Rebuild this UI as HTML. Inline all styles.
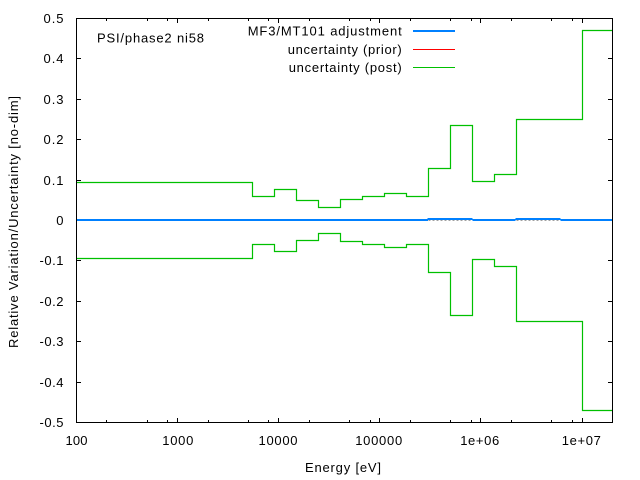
<!DOCTYPE html>
<html><head><meta charset="utf-8"><style>
html,body{margin:0;padding:0;background:#fff;}
svg{display:block;}
text{font-family:"Liberation Sans",Arial,sans-serif;font-size:13px;fill:#000;}
</style></head><body>
<svg width="640" height="480" viewBox="0 0 640 480" xmlns="http://www.w3.org/2000/svg">
<rect width="640" height="480" fill="#fff"/>

<!-- zero axis dotted -->
<line x1="76.5" y1="220.5" x2="612" y2="220.5" stroke="#a0a0a0" stroke-width="1" stroke-dasharray="2,2"/>

<!-- green upper -->
<polyline fill="none" stroke="#00c000" stroke-width="1.2" points="76.5,182.5 252.5,182.5 252.5,196.5 274.5,196.5 274.5,189.5 296.5,189.5 296.5,200.5 318.5,200.5 318.5,207.5 340.5,207.5 340.5,199.5 362.5,199.5 362.5,196.5 384.5,196.5 384.5,193.5 406.5,193.5 406.5,196.5 428.5,196.5 428.5,168.5 450.5,168.5 450.5,125.5 472.5,125.5 472.5,181.5 494.5,181.5 494.5,174.5 516.5,174.5 516.5,119.5 582.5,119.5 582.5,30.5 612,30.5"/>
<!-- green lower -->
<polyline fill="none" stroke="#00c000" stroke-width="1.2" points="76.5,258.5 252.5,258.5 252.5,244.5 274.5,244.5 274.5,251.5 296.5,251.5 296.5,240.5 318.5,240.5 318.5,233.5 340.5,233.5 340.5,241.5 362.5,241.5 362.5,244.5 384.5,244.5 384.5,247.5 406.5,247.5 406.5,244.5 428.5,244.5 428.5,272.5 450.5,272.5 450.5,315.5 472.5,315.5 472.5,259.5 494.5,259.5 494.5,266.5 516.5,266.5 516.5,321.5 582.5,321.5 582.5,410.5 612,410.5"/>

<!-- blue adjustment -->
<rect x="76.5" y="219" width="351.5" height="2" fill="#0080ff"/>
<rect x="427.5" y="218" width="45" height="2" fill="#0080ff"/>
<rect x="472.5" y="219" width="43" height="2" fill="#0080ff"/>
<rect x="515.5" y="218" width="45" height="2" fill="#0080ff"/>
<rect x="560.5" y="219" width="51.5" height="2" fill="#0080ff"/>

<!-- axes box -->
<rect x="76.5" y="18.5" width="536" height="404" fill="none" stroke="#000" stroke-width="1"/>

<!-- y ticks -->
<g stroke="#000" stroke-width="1">
<line x1="76.5" y1="58.5" x2="81" y2="58.5"/><line x1="612.5" y1="58.5" x2="608" y2="58.5"/>
<line x1="76.5" y1="99.5" x2="81" y2="99.5"/><line x1="612.5" y1="99.5" x2="608" y2="99.5"/>
<line x1="76.5" y1="139.5" x2="81" y2="139.5"/><line x1="612.5" y1="139.5" x2="608" y2="139.5"/>
<line x1="76.5" y1="180.5" x2="81" y2="180.5"/><line x1="612.5" y1="180.5" x2="608" y2="180.5"/>
<line x1="76.5" y1="260.5" x2="81" y2="260.5"/><line x1="612.5" y1="260.5" x2="608" y2="260.5"/>
<line x1="76.5" y1="301.5" x2="81" y2="301.5"/><line x1="612.5" y1="301.5" x2="608" y2="301.5"/>
<line x1="76.5" y1="341.5" x2="81" y2="341.5"/><line x1="612.5" y1="341.5" x2="608" y2="341.5"/>
<line x1="76.5" y1="382.5" x2="81" y2="382.5"/><line x1="612.5" y1="382.5" x2="608" y2="382.5"/>
</g>

<!-- x ticks major -->
<g stroke="#000" stroke-width="1">
<line x1="177.5" y1="422.5" x2="177.5" y2="418"/><line x1="177.5" y1="18.5" x2="177.5" y2="23"/>
<line x1="278.5" y1="422.5" x2="278.5" y2="418"/><line x1="278.5" y1="18.5" x2="278.5" y2="23"/>
<line x1="379.5" y1="422.5" x2="379.5" y2="418"/><line x1="379.5" y1="18.5" x2="379.5" y2="23"/>
<line x1="480.5" y1="422.5" x2="480.5" y2="418"/><line x1="480.5" y1="18.5" x2="480.5" y2="23"/>
<line x1="582.5" y1="422.5" x2="582.5" y2="418"/><line x1="582.5" y1="18.5" x2="582.5" y2="23"/>
</g>
<!-- x ticks minor (2,5,8) -->
<g stroke="#000" stroke-width="1">
<line x1="106.5" y1="422.5" x2="106.5" y2="420"/><line x1="106.5" y1="18.5" x2="106.5" y2="21"/>
<line x1="147.5" y1="422.5" x2="147.5" y2="420"/><line x1="147.5" y1="18.5" x2="147.5" y2="21"/>
<line x1="167.5" y1="422.5" x2="167.5" y2="420"/><line x1="167.5" y1="18.5" x2="167.5" y2="21"/>
<line x1="208.5" y1="422.5" x2="208.5" y2="420"/><line x1="208.5" y1="18.5" x2="208.5" y2="21"/>
<line x1="248.5" y1="422.5" x2="248.5" y2="420"/><line x1="248.5" y1="18.5" x2="248.5" y2="21"/>
<line x1="268.5" y1="422.5" x2="268.5" y2="420"/><line x1="268.5" y1="18.5" x2="268.5" y2="21"/>
<line x1="309.5" y1="422.5" x2="309.5" y2="420"/><line x1="309.5" y1="18.5" x2="309.5" y2="21"/>
<line x1="349.5" y1="422.5" x2="349.5" y2="420"/><line x1="349.5" y1="18.5" x2="349.5" y2="21"/>
<line x1="370.5" y1="422.5" x2="370.5" y2="420"/><line x1="370.5" y1="18.5" x2="370.5" y2="21"/>
<line x1="410.5" y1="422.5" x2="410.5" y2="420"/><line x1="410.5" y1="18.5" x2="410.5" y2="21"/>
<line x1="450.5" y1="422.5" x2="450.5" y2="420"/><line x1="450.5" y1="18.5" x2="450.5" y2="21"/>
<line x1="471.5" y1="422.5" x2="471.5" y2="420"/><line x1="471.5" y1="18.5" x2="471.5" y2="21"/>
<line x1="511.5" y1="422.5" x2="511.5" y2="420"/><line x1="511.5" y1="18.5" x2="511.5" y2="21"/>
<line x1="551.5" y1="422.5" x2="551.5" y2="420"/><line x1="551.5" y1="18.5" x2="551.5" y2="21"/>
<line x1="572.5" y1="422.5" x2="572.5" y2="420"/><line x1="572.5" y1="18.5" x2="572.5" y2="21"/>
</g>

<!-- y tick labels -->
<g text-anchor="end">
<text x="63.5" y="23" textLength="20">0.5</text>
<text x="63.5" y="63" textLength="20">0.4</text>
<text x="63.5" y="104" textLength="20">0.3</text>
<text x="63.5" y="144" textLength="20">0.2</text>
<text x="63.5" y="185" textLength="20">0.1</text>
<text x="63.5" y="225">0</text>
<text x="63.5" y="265" textLength="24">-0.1</text>
<text x="63.5" y="306" textLength="24">-0.2</text>
<text x="63.5" y="346" textLength="24">-0.3</text>
<text x="63.5" y="387" textLength="24">-0.4</text>
<text x="63.5" y="427" textLength="24">-0.5</text>
</g>

<!-- x tick labels -->
<g text-anchor="middle">
<text x="76.5" y="445" textLength="22">100</text>
<text x="177.8" y="445" textLength="31">1000</text>
<text x="278" y="445" textLength="39">10000</text>
<text x="378.7" y="445" textLength="47">100000</text>
<text x="479.7" y="445" textLength="39">1e+06</text>
<text x="581.3" y="445" textLength="39">1e+07</text>
</g>

<text x="343" y="472" text-anchor="middle" textLength="76">Energy [eV]</text>
<text transform="translate(18,222) rotate(-90)" x="0" y="0" text-anchor="middle" textLength="252">Relative Variation/Uncertainty [no-dim]</text>

<text x="97" y="42.7" textLength="107">PSI/phase2 ni58</text>

<!-- legend -->
<g text-anchor="end">
<text x="401.7" y="35.7" textLength="154">MF3/MT101 adjustment</text>
<text x="401.7" y="54" textLength="114">uncertainty (prior)</text>
<text x="401.7" y="72" textLength="113">uncertainty (post)</text>
</g>
<rect x="413" y="30" width="42" height="2" fill="#0080ff"/>
<line x1="413" y1="49.5" x2="455" y2="49.5" stroke="#ff0000" stroke-width="1"/>
<line x1="413" y1="67.5" x2="455" y2="67.5" stroke="#00c000" stroke-width="1"/>
</svg>
</body></html>
